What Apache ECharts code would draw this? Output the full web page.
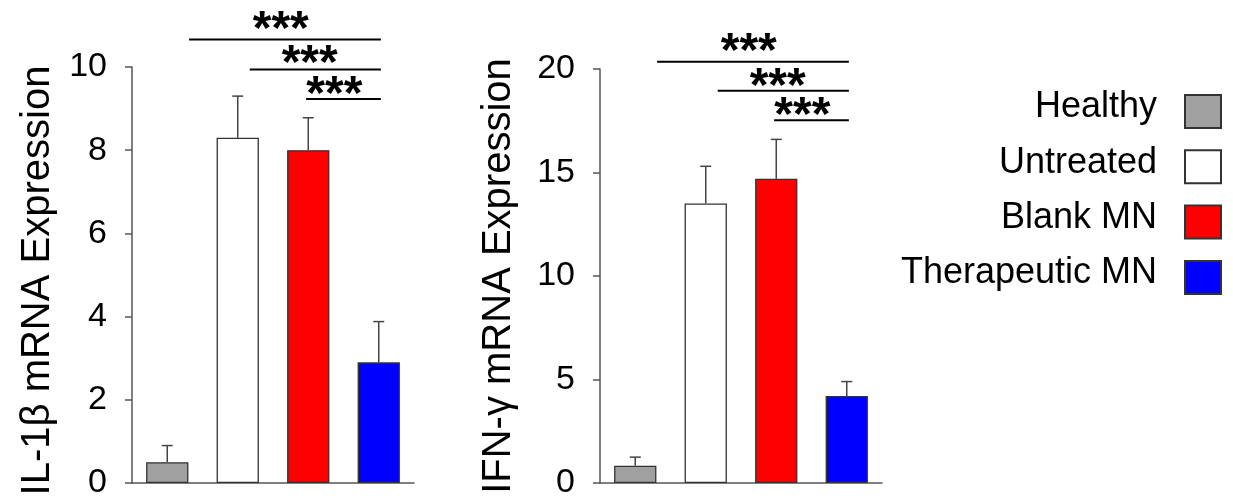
<!DOCTYPE html>
<html>
<head>
<meta charset="utf-8">
<script src="https://cdn.jsdelivr.net/npm/echarts@6/dist/echarts.min.js"></script>
<style>
html,body{margin:0;padding:0;background:#fff;}
#chart{width:1233px;height:500px;}
</style>
</head>
<body>
<div id="chart"></div>
<script>
const groups = ['Healthy', 'Untreated', 'Blank MN', 'Therapeutic MN'];
const groupColors = ['#a0a0a0', '#ffffff', '#ff0000', '#0000ff'];

const il1bMean = [0.5, 8.3, 8.0, 2.9];
const il1bErr = [0.4, 1.0, 0.78, 0.98];
const ifngMean = [0.83, 13.5, 14.7, 4.2];
const ifngErr = [0.42, 1.8, 1.9, 0.7];

const il1bAxis = { min: 0, max: 10, interval: 2 };
const ifngAxis = { min: 0, max: 20, interval: 5 };

const sigStart = [0.31, 1.17, 1.97];
const sigEnd = [3.03, 3.03, 3.03];
const sigText = ['***', '***', '***'];
const il1bSigY = [10.66, 9.94, 9.23];
const ifngSigY = [20.35, 18.95, 17.53];
const starX = [1.61, 2.02, 2.37];
const il1bStarY = [11.11, 10.29, 9.56];
const ifngStarY = [21.27, 19.57, 18.18];

const FONT = "'Liberation Sans', Arial, sans-serif";
const AXIS_COLOR = '#555';

function barSeries(means, gi) {
  return groups.map((g, k) => ({
    name: g,
    type: 'bar',
    xAxisIndex: gi * 2,
    yAxisIndex: gi,
    barWidth: '60%',
    barGap: '-100%',
    itemStyle: { color: groupColors[k], borderColor: '#333', borderWidth: 1.3 },
    data: means.map((v, i) => (i === k ? v : '-')),
    z: 2
  }));
}

function errSeries(means, errs, gi) {
  return {
    type: 'custom',
    xAxisIndex: gi * 2 + 1,
    yAxisIndex: gi,
    silent: true,
    z: 3,
    data: means.map((m, i) => [i, m, m + errs[i]]),
    encode: { x: 0, y: [1, 2] },
    renderItem: function (params, api) {
      const p0 = api.coord([api.value(0), api.value(1)]);
      const p1 = api.coord([api.value(0), api.value(2)]);
      const st = { stroke: '#444', lineWidth: 1.5 };
      return {
        type: 'group',
        children: [
          { type: 'line', shape: { x1: p0[0], y1: p0[1], x2: p1[0], y2: p1[1] }, style: st },
          { type: 'line', shape: { x1: p1[0] - 5.5, y1: p1[1], x2: p1[0] + 5.5, y2: p1[1] }, style: st }
        ]
      };
    }
  };
}

function sigSeries(sigY, starY, gi) {
  return [{
    type: 'custom',
    xAxisIndex: gi * 2 + 1,
    yAxisIndex: gi,
    silent: true,
    z: 4,
    data: sigStart.map((s, i) => [s, sigEnd[i], sigY[i]]),
    encode: { x: [0, 1], y: 2 },
    renderItem: function (params, api) {
      const a = api.coord([api.value(0), api.value(2)]);
      const b = api.coord([api.value(1), api.value(2)]);
      return { type: 'line', shape: { x1: a[0], y1: a[1], x2: b[0], y2: b[1] }, style: { stroke: '#000', lineWidth: 2 } };
    }
  }, {
    type: 'custom',
    xAxisIndex: gi * 2 + 1,
    yAxisIndex: gi,
    silent: true,
    z: 4,
    data: starX.map((x, i) => [x, starY[i], sigText[i]]),
    encode: { x: 0, y: 1 },
    renderItem: function (params, api) {
      const p = api.coord([api.value(0), api.value(1)]);
      return {
        type: 'text',
        x: p[0], y: p[1] + 10,
        style: {
          text: sigText[params.dataIndex],
          fontSize: 48, fontWeight: 'bold', fontFamily: FONT,
          fill: '#000', align: 'center', verticalAlign: 'middle'
        }
      };
    }
  }];
}

function yAxis(gi, cfg, name, namePad, gap) {
  return {
    type: 'value', gridIndex: gi,
    min: cfg.min, max: cfg.max, interval: cfg.interval,
    name: name, nameLocation: 'middle', nameGap: gap,
    nameMoveOverlap: false,
    nameTextStyle: { fontSize: 40, color: '#000', fontFamily: FONT, padding: namePad },
    axisLine: { show: true, onZero: false, lineStyle: { color: AXIS_COLOR, width: 1.5 } },
    axisTick: { show: true, length: 7, lineStyle: { color: AXIS_COLOR, width: 1.5 } },
    axisLabel: { fontSize: 34, color: '#000', fontFamily: FONT, margin: 25 },
    splitLine: { show: false }
  };
}

function xAxes(gi) {
  return [{
    type: 'category', gridIndex: gi, data: groups,
    axisLine: { onZero: false, lineStyle: { color: AXIS_COLOR, width: 1.5 } },
    axisTick: { alignWithLabel: true, length: 6, lineStyle: { color: AXIS_COLOR, width: 1.5 } },
    axisLabel: { show: false }
  }, {
    type: 'value', gridIndex: gi, min: -0.5, max: 3.5, show: false
  }];
}

const chart = echarts.init(document.getElementById('chart'), null, { renderer: 'canvas' });
chart.setOption({
  backgroundColor: '#fff',
  animation: false,
  textStyle: { fontFamily: FONT },
  grid: [
    { left: 132, top: 67, width: 282, height: 417 },
    { left: 600, top: 69, width: 282, height: 418 }
  ],
  xAxis: xAxes(0).concat(xAxes(1)),
  yAxis: [
    yAxis(0, il1bAxis, 'IL-1β mRNA Expression', [0, 11, 0, 0], 74),
    yAxis(1, ifngAxis, 'IFN-γ mRNA Expression', [0, 0, 0, 0], 81)
  ],
  legend: {
    data: groups,
    orient: 'vertical',
    right: 11, top: 89.5,
    padding: 0,
    align: 'right',
    itemWidth: 36, itemHeight: 33, itemGap: 15.8,
    icon: 'rect',
    selectedMode: false,
    formatter: '{t|{name}}',
    textStyle: {
      fontSize: 36, color: '#000', fontFamily: FONT,
      rich: { t: { fontSize: 36, color: '#000', fontFamily: FONT, padding: [0, 23, 8, 0] } }
    }
  },
  series: [].concat(
    barSeries(il1bMean, 0),
    barSeries(ifngMean, 1),
    [errSeries(il1bMean, il1bErr, 0), errSeries(ifngMean, ifngErr, 1)],
    sigSeries(il1bSigY, il1bStarY, 0),
    sigSeries(ifngSigY, ifngStarY, 1)
  )
});
</script>
</body>
</html>
